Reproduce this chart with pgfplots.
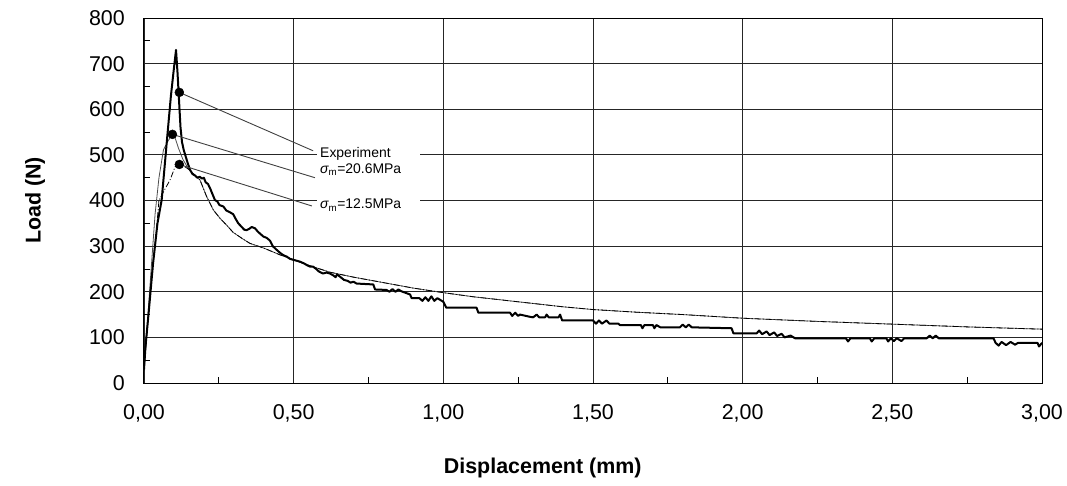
\documentclass[border=0pt]{standalone}
\usepackage{fontspec}
\setmainfont{Liberation Sans}
\usepackage{pgfplots}
\pgfplotsset{compat=1.18}

\begin{document}
\begin{tikzpicture}
\begin{axis}[
    at={(0,0)}, anchor=south west,
    scale only axis, width=898bp, height=365bp,
    xmin=0, xmax=3, ymin=0, ymax=800,
    xtick={0,0.5,1,1.5,2,2.5,3},
    xticklabels={{0,00},{0,50},{1,00},{1,50},{2,00},{2,50},{3,00}},
    ytick={0,100,...,800},
    minor x tick num=1, minor y tick num=1,
    grid=major,
    major grid style={black!85, line width=0.8bp},
    tick align=inside, tick pos=left,
    major tick length=0pt, minor tick length=6bp,
    minor tick style={black, line width=0.8bp},
    axis line style={black, line width=1bp},
    /pgf/number format/assume math mode=true,
    ticklabel style={font=\fontsize{21.5}{24}\selectfont},
    yticklabel style={inner sep=0pt, xshift=-19bp},
    xticklabel style={inner sep=0pt, yshift=-21bp},
    xlabel={Displacement (mm)},
    ylabel={Load (N)},
    label style={font=\fontsize{21.5}{25}\selectfont\bfseries},
    xlabel style={at={(axis description cs:0.444,-0.2329)}, anchor=center},
    ylabel style={at={(axis description cs:-0.1214,0.5)}, anchor=center},
]

% sigma_m = 20.6 MPa (thin solid)
\addplot[black!70, line width=0.8bp] coordinates {
 (0.000,25) (0.010,120) (0.025,260) (0.037,370) (0.050,450) (0.065,511)
 (0.080,530) (0.095,546) (0.105,535) (0.115,515) (0.130,490) (0.150,468)
 (0.170,455) (0.187,445) (0.209,409) (0.232,379) (0.254,361) (0.276,346)
 (0.298,330) (0.332,315) (0.354,306) (0.399,296) (0.454,281) (0.500,270)
 (0.550,258) (0.620,243) (0.700,232) (0.800,220) (0.900,208) (1.000,198)
 (1.100,189) (1.250,178) (1.400,167) (1.500,161) (1.650,155) (1.800,150)
 (2.000,142) (2.250,135) (2.500,129) (2.750,123) (3.000,118)
};

% sigma_m = 12.5 MPa (dash-dot)
\addplot[black, line width=0.8bp, dash pattern=on 6bp off 2bp on 1bp off 2bp] coordinates {
 (0.000,25) (0.010,110) (0.025,230) (0.042,340) (0.050,400) (0.070,425)
 (0.087,445) (0.104,474) (0.118,479) (0.130,477) (0.150,468) (0.170,456)
 (0.187,445) (0.209,409) (0.232,379) (0.254,361) (0.276,346) (0.298,330)
 (0.332,315) (0.354,306) (0.399,296) (0.454,281) (0.500,270) (0.550,258)
 (0.620,243) (0.700,232) (0.800,220) (0.900,208) (1.000,198) (1.100,189)
 (1.250,178) (1.400,167) (1.500,161) (1.650,155) (1.800,150) (2.000,142)
 (2.250,135) (2.500,129) (2.750,123) (3.000,118)
};

% experiment (thick, jagged)
\addplot[black, line width=2bp, line join=round] coordinates {
 (0.000,30) (0.005,80) (0.015,150) (0.030,260) (0.045,350) (0.059,401)
 (0.075,520) (0.090,630) (0.100,690) (0.107,730) (0.112,680) (0.117,620)
 (0.122,560) (0.127,528) (0.133,510) (0.140,495) (0.147,480) (0.154,467)
 (0.162,458) (0.170,455) (0.178,450) (0.186,452) (0.194,448) (0.200,450)
 (0.206,440) (0.214,436) (0.222,425) (0.230,412) (0.237,401) (0.245,398)
 (0.252,390) (0.265,387) (0.275,378) (0.285,375) (0.298,370) (0.306,360)
 (0.315,350) (0.325,343) (0.335,336) (0.343,335) (0.352,338) (0.360,342)
 (0.371,339) (0.380,332) (0.390,326) (0.399,321) (0.410,318) (0.421,312)
 (0.430,300) (0.443,292) (0.455,285) (0.466,280) (0.477,277) (0.488,272)
 (0.499,270) (0.510,268) (0.521,266) (0.535,262) (0.545,258) (0.555,255)
 (0.565,255) (0.575,250) (0.585,244) (0.598,240) (0.610,242) (0.621,240)
 (0.632,236) (0.640,232) (0.645,238) (0.655,233) (0.668,226) (0.680,224)
 (0.690,220) (0.700,222) (0.710,218) (0.766,216) (0.772,205) (0.810,204)
 (0.820,200) (0.830,206) (0.840,200) (0.850,205) (0.860,201) (0.889,194)
 (0.894,186) (0.920,186) (0.930,180) (0.940,188) (0.950,180) (0.960,190)
 (0.970,180) (0.980,186) (0.995,180) (1.000,178) (1.010,165) (1.111,165)
 (1.117,154) (1.223,154) (1.230,147) (1.240,154) (1.250,147) (1.256,150)
 (1.290,145) (1.300,144) (1.312,150) (1.320,144) (1.340,144) (1.345,150)
 (1.352,144) (1.385,144) (1.390,150) (1.397,137) (1.500,137) (1.510,130)
 (1.520,137) (1.530,130) (1.545,137) (1.555,130) (1.585,130) (1.590,127)
 (1.660,127) (1.665,120) (1.672,127) (1.700,127) (1.705,120) (1.712,127)
 (1.725,122) (1.790,122) (1.800,128) (1.810,122) (1.820,128) (1.830,122)
 (1.963,120) (1.969,109) (2.047,109) (2.055,115) (2.065,107) (2.080,113)
 (2.090,105) (2.105,111) (2.115,103) (2.130,108) (2.140,100) (2.160,104)
 (2.175,98) (2.345,98) (2.352,91) (2.360,98) (2.425,98) (2.431,91)
 (2.440,98) (2.480,98) (2.486,91) (2.495,98) (2.505,92) (2.515,98)
 (2.530,92) (2.540,98) (2.559,98) (2.615,98) (2.625,104) (2.635,98)
 (2.645,104) (2.655,98) (2.670,98) (2.838,98) (2.845,88) (2.855,82)
 (2.865,90) (2.880,83) (2.895,90) (2.910,84) (2.920,88) (2.985,88)
 (2.990,80) (3.000,88)
};

% leader lines to the labels
\addplot[black!75, line width=0.9bp] coordinates {(0.118,637) (0.565,509)};
\addplot[black!75, line width=0.9bp] coordinates {(0.095,545) (0.571,450)};
\addplot[black!75, line width=0.9bp] coordinates {(0.118,479) (0.561,388)};

% peak markers
\addplot[only marks, mark=*, mark size=4.5bp, black] coordinates {
 (0.118,637) (0.095,545) (0.118,479)
};

\node[anchor=west, fill=white, inner xsep=3bp, inner ysep=0pt, text width=97bp,
      font=\fontsize{14}{16}\selectfont] at (axis cs:0.578,467)
      {{\itshape σ}\textsubscript{m}=20.6MPa};
\node[anchor=west, fill=white, inner xsep=3bp, inner ysep=0pt, text width=97bp,
      font=\fontsize{14}{16}\selectfont] at (axis cs:0.578,502) {Experiment};
\node[anchor=west, fill=white, inner xsep=3bp, inner ysep=1bp, text width=97bp,
      font=\fontsize{14}{16}\selectfont] at (axis cs:0.578,390)
      {{\itshape σ}\textsubscript{m}=12.5MPa};
\end{axis}
\pgfresetboundingbox
\path[use as bounding box] (-144bp,-103bp) rectangle (923bp,383bp);
\end{tikzpicture}
\end{document}
